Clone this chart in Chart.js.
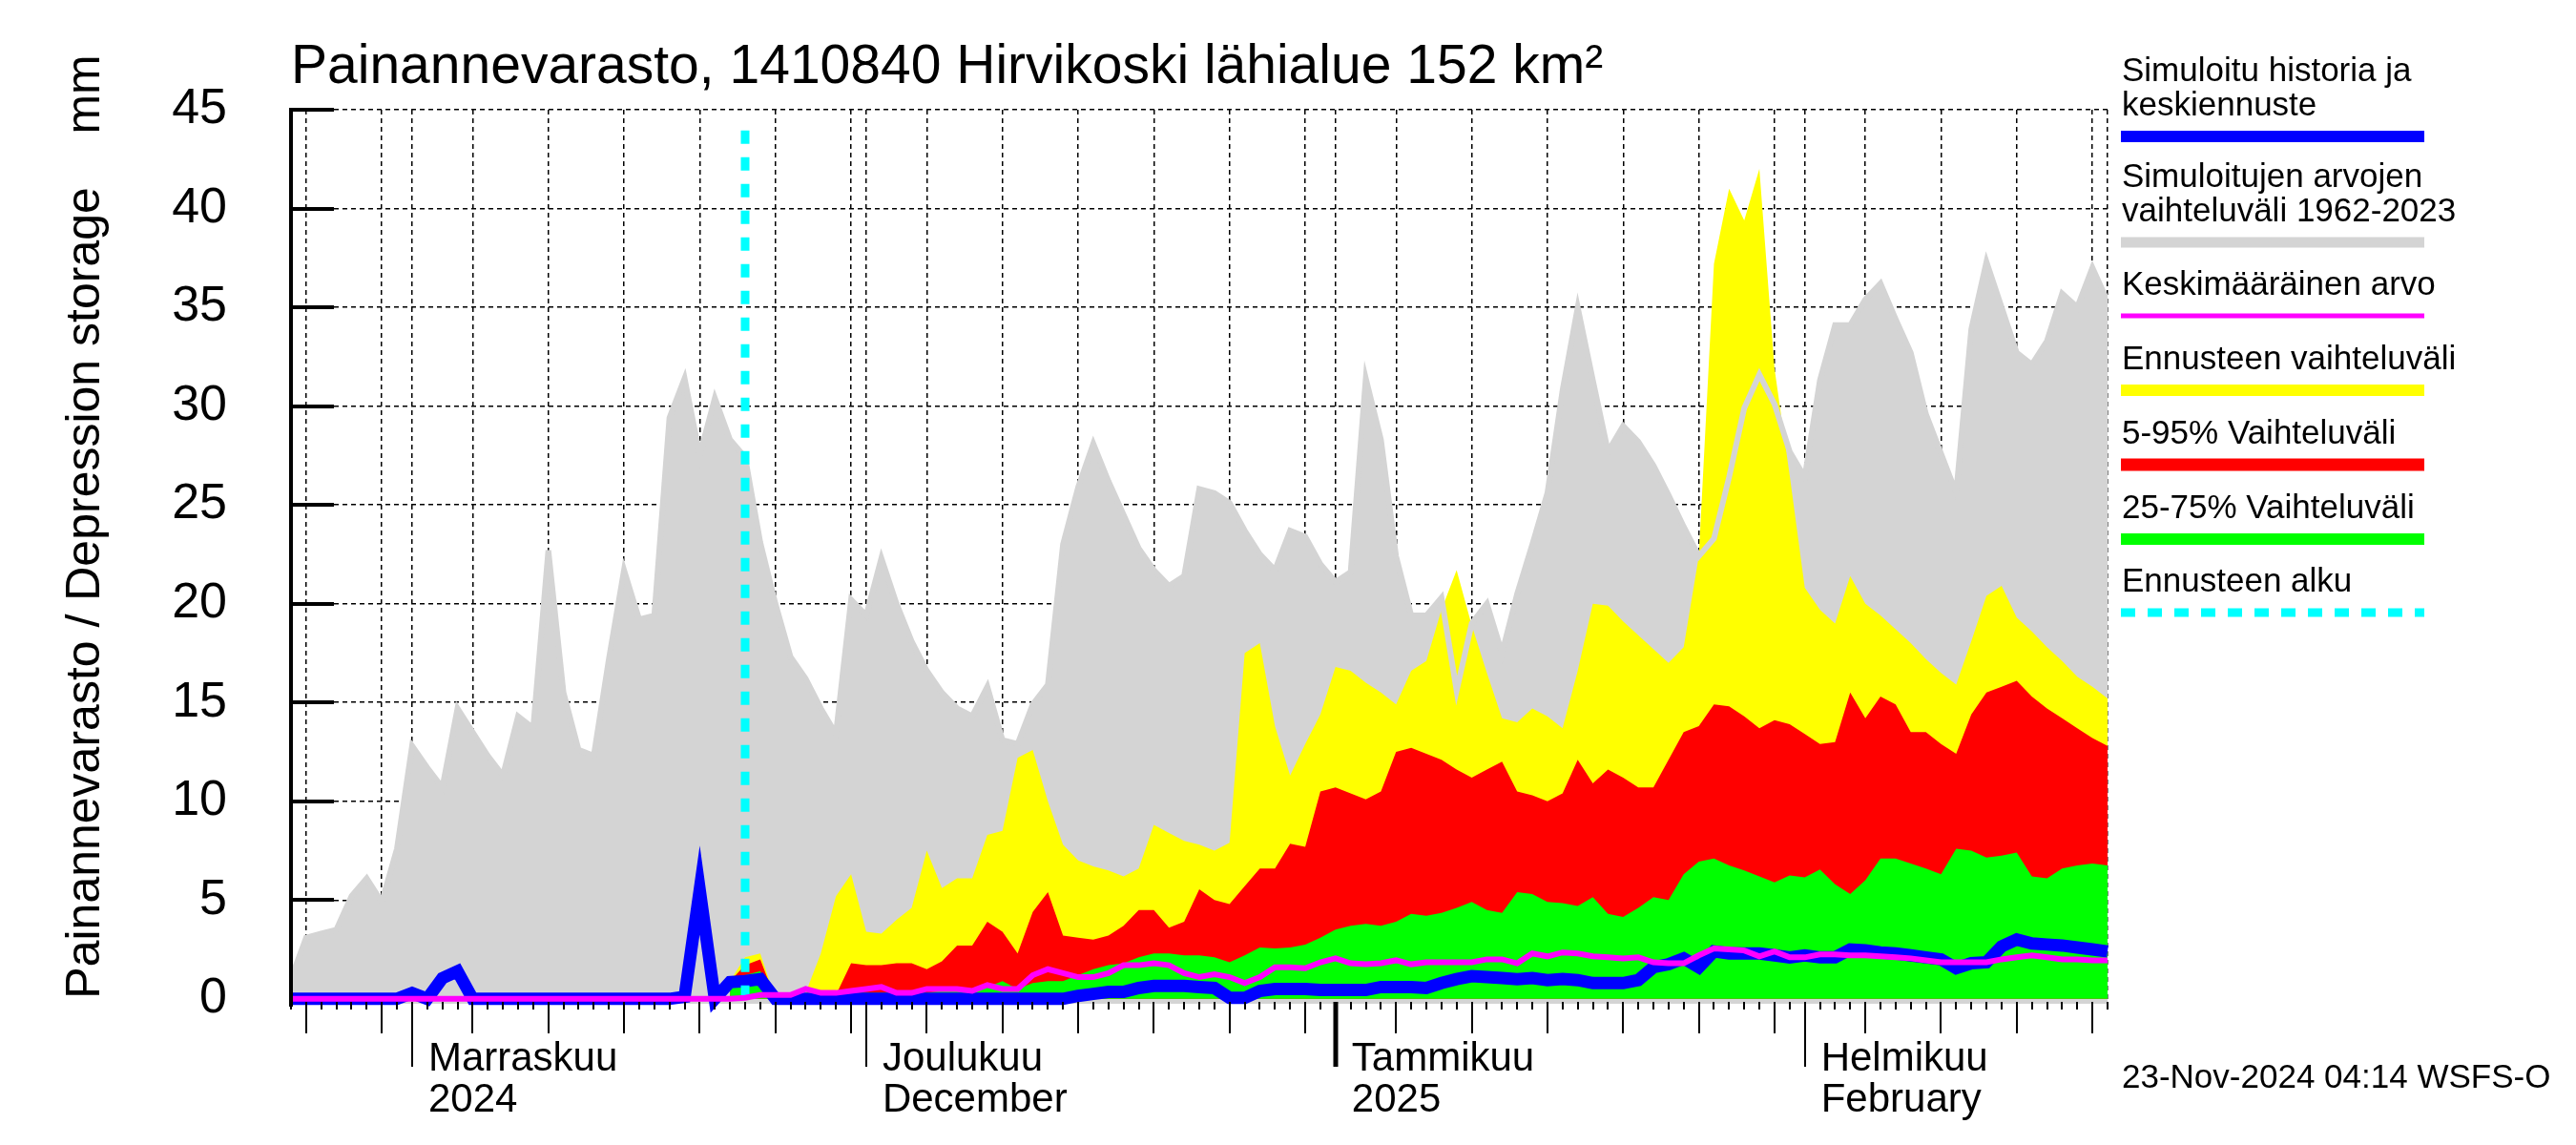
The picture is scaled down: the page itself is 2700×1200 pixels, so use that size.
<!DOCTYPE html>
<html>
<head>
<meta charset="utf-8">
<script src="https://cdn.jsdelivr.net/npm/chart.js@4.4.1/dist/chart.umd.min.js"></script>
<style>
body{margin:0;background:#fff}
#wrap{width:2700px;height:1200px}
</style>
</head>
<body>
<div id="wrap"><canvas id="chart" width="2700" height="1200"></canvas></div>
<script>

// day 0 = 24.10.2024, last day = 21.2.2025
const startDate = new Date(2024, 9, 24)
const days = Array.from({length:121}, (_, i) => i)
const forecastDay = 30
const forecastFirst = 29

const histMax = [
1.0,3.1,3.3,3.5,5.2,6.1,4.9,7.6,12.8,11.7,
10.7,14.7,13.5,12.3,11.3,14.3,13.7,22.7,15.5,12.6,
12.3,17.2,21.7,19.2,19.4,29.4,31.4,27.5,30.4,28.3,
27.4,23.1,20.0,17.3,16.2,14.7,13.4,20.2,19.4,22.3,
20.0,18.1,16.6,15.5,14.7,14.3,15.8,13.1,12.9,14.9,
15.9,23.0,25.9,28.1,26.2,24.5,22.8,21.7,20.9,21.4,
25.8,25.6,25.1,23.7,22.5,21.7,23.7,23.4,22.0,21.1,
21.6,31.4,28.3,22.4,19.4,19.4,20.3,15.6,19.0,20.0,
17.5,20.5,23.0,25.6,30.8,35.0,31.3,27.7,29.0,28.2,
27.0,25.5,23.9,22.4,23.3,26.4,29.9,31.6,30.1,27.7,
26.4,31.3,34.1,34.1,35.4,36.2,34.4,32.7,29.6,27.6,
25.6,33.9,37.3,35.0,32.7,32.1,33.3,35.7,35.0,37.0,35.3
]

// forecast series start at day 29
const fcMax = [
0.9,2.1,2.3,0,0,0.3,2.3,5.2,6.3,3.4,3.3,
4.0,4.6,7.5,5.6,6.1,6.1,8.3,8.5,12.2,12.6,
10.0,7.8,7.0,6.7,6.5,6.2,6.6,8.8,8.4,8.0,
7.8,7.5,7.9,17.5,18.0,13.8,11.3,12.9,14.4,16.8,
16.6,16.0,15.5,14.9,16.6,17.1,19.7,21.7,18.9,16.5,
14.2,14.0,14.7,14.3,13.7,16.6,20.0,19.9,19.1,18.4,
17.7,17.0,17.8,22.4,37.2,41.0,39.4,42.0,31.9,26.5,
20.8,19.7,19.0,21.4,20.0,19.4,18.7,18.0,17.2,16.5,
15.9,18.1,20.4,20.9,19.3,18.6,17.8,17.1,16.3,15.8,15.2
]

const fc95 = [
0.9,1.7,2.0,0,0,0,0,0.2,1.8,1.7,1.7,
1.8,1.8,1.5,1.9,2.7,2.7,3.9,3.4,2.3,4.4,
5.4,3.2,3.1,3.0,3.2,3.7,4.5,4.5,3.6,3.9,
5.55,5.0,4.8,5.7,6.6,6.6,7.85,7.7,10.5,10.7,
10.4,10.1,10.5,12.5,12.7,12.4,12.1,11.6,11.2,11.6,
12.0,10.5,10.3,10.0,10.4,12.1,10.9,11.6,11.2,10.7,
10.7,12.1,13.5,13.8,14.9,14.8,14.3,13.7,14.1,13.9,
13.4,12.9,13.0,15.5,14.2,15.3,14.9,13.5,13.5,12.9,
12.4,14.4,15.5,15.8,16.1,15.3,14.7,14.2,13.7,13.2,12.8
]

const fc75 = [
0.9,1.2,1.4,0,0,0.1,0.2,0.2,0.3,0.3,0.3,
0.3,0.3,0.3,0.4,0.5,0.5,0.6,0.9,0.5,0.8,
0.9,0.9,1.2,1.5,1.7,1.8,2.1,2.3,2.3,2.2,
2.2,2.1,1.85,2.2,2.6,2.55,2.6,2.75,3.1,3.5,
3.7,3.8,3.7,3.9,4.3,4.2,4.35,4.6,4.9,4.5,
4.35,5.4,5.3,4.9,4.85,4.7,5.15,4.3,4.15,4.6,
5.15,5.0,6.3,6.95,7.1,6.75,6.5,6.2,5.9,6.25,
6.15,6.55,5.8,5.3,6.0,7.1,7.1,6.85,6.6,6.3,
7.6,7.5,7.15,7.25,7.4,6.2,6.1,6.6,6.75,6.85,6.75
]

const meanValue = [
0,0,0,0,0,0,0,0,0,0,
0,0,0,0,0,0,0,0,0,0,
0,0,0,0,0,0,0,0,0,0,
0.05,0.2,0.2,0.2,0.5,0.3,0.3,0.4,0.5,0.6,
0.3,0.3,0.5,0.5,0.5,0.4,0.7,0.5,0.5,1.2,
1.5,1.3,1.1,1.1,1.3,1.7,1.7,1.8,1.7,1.3,
1.1,1.25,1.1,0.8,1.1,1.6,1.6,1.55,1.85,2.05,
1.8,1.75,1.8,1.95,1.75,1.85,1.85,1.85,1.85,2.0,
2.0,1.8,2.3,2.15,2.35,2.3,2.15,2.1,2.05,2.1,
1.85,1.8,1.8,2.2,2.55,2.5,2.45,2.15,2.4,2.1,
2.1,2.25,2.25,2.2,2.2,2.15,2.1,2.05,1.95,1.85,
1.85,1.85,1.85,2.0,2.1,2.2,2.1,2.0,2.0,1.95,1.95
]

const simulated = [
0,0,0,0,0,0,0,0,0.3,0,
1.05,1.4,0,0,0,0,0,0,0,0,
0,0,0,0,0,0,0.1,5.5,0,0.85,
0.9,1.0,0,0,0,0,0,0,0,0,
0,0,0,0,0,0,0,0,0,0,
0,0,0.15,0.25,0.35,0.35,0.55,0.65,0.65,0.65,
0.6,0.55,0.05,0.05,0.4,0.5,0.5,0.5,0.45,0.45,
0.45,0.45,0.6,0.6,0.6,0.55,0.8,1.0,1.15,1.1,
1.05,1.0,1.05,0.95,1.0,0.95,0.8,0.8,0.8,0.95,
1.6,1.75,2.05,1.6,2.4,2.3,2.3,2.3,2.2,2.1,
2.2,2.1,2.1,2.5,2.45,2.35,2.3,2.2,2.1,2.0,
1.55,1.8,1.85,2.65,3.0,2.8,2.75,2.7,2.6,2.5,2.4
]

const yTicks = [0,5,10,15,20,25,30,35,40,45]
const monthTicks = [8,38,69,100]
const monthNames = [["Marraskuu","2024"],["Joulukuu","December"],["Tammikuu","2025"],["Helmikuu","February"]]
const yearTick = 69

const legendItems = [
{text:["Simuloitu historia ja","keskiennuste"], color:"#0000ff"},
{text:["Simuloitujen arvojen","vaihteluväli 1962-2023"], color:"#d4d4d4"},
{text:["Keskimääräinen arvo"], color:"#ff00ff"},
{text:["Ennusteen vaihteluväli"], color:"#ffff00"},
{text:["5-95% Vaihteluväli"], color:"#ff0000"},
{text:["25-75% Vaihteluväli"], color:"#00ff00"},
{text:["Ennusteen alku"], color:"#00ffff"}
]

const titleText = "Painannevarasto, 1410840 Hirvikoski lähialue 152 km²"
const yTitle = "Painannevarasto / Depression storage    mm"
const stampText = "23-Nov-2024 04:14 WSFS-O"

const FONT = '"Liberation Sans", Arial, sans-serif'

function dateOf(i){
const d = new Date(startDate)
d.setDate(d.getDate()+i)
return d
}

const midDays = days.filter(i => [5,10,15,20,25,30].includes(dateOf(i).getDate()))
const gridDays = days.filter(i => dateOf(i).getDate()===1 || midDays.includes(i) || i===days.length-1)

const withGap = arr => Array(forecastFirst).fill(null).concat(arr)

function line(ctx,x1,y1,x2,y2){
ctx.beginPath()
ctx.moveTo(x1,y1)
ctx.lineTo(x2,y2)
ctx.stroke()
}

const decor = {
id:"decor",
afterDraw(chart){

const ctx = chart.ctx
const a = chart.chartArea
const xs = chart.scales.x
const ys = chart.scales.y

ctx.save()
ctx.strokeStyle = "#000"
ctx.fillStyle = "#000"
ctx.setLineDash([])

// y axis line and inward ticks
ctx.lineWidth = 4
line(ctx, a.left, a.top-2, a.left, a.bottom+3)
yTicks.forEach(v => {
if(v===0) return
const y = Math.round(ys.getPixelForValue(v))
line(ctx, a.left, y, a.left+45, y)
})

// x ticks: days, 5-day, months
days.forEach(i => {
const x = Math.round(xs.getPixelForValue(i))
let len = 6
if(midDays.includes(i)) len = 31
if(monthTicks.includes(i)) len = 66
ctx.lineWidth = i===yearTick ? 5 : 2
line(ctx, x, a.bottom-2, x, a.bottom+len)
})

ctx.font = "42px "+FONT
ctx.textAlign = "left"
monthTicks.forEach((d,k) => {
const x = xs.getPixelForValue(d)+17
ctx.fillText(monthNames[k][0], x, 1122)
ctx.fillText(monthNames[k][1], x, 1165)
})

ctx.font = "57px "+FONT
ctx.fillText(titleText, 305, 87)

ctx.font = "35px "+FONT
ctx.fillText(stampText, 2224, 1140)

// legend
const baseY = [85,196,309,387,465,543,620]
const widths = [12,11,5,12,13,12,9]
legendItems.forEach((it,k) => {
ctx.fillStyle = "#000"
let y = baseY[k]
it.text.forEach((t,j) => {
ctx.fillText(t, 2224, y)
if(j<it.text.length-1) y += 36
})
ctx.strokeStyle = it.color
ctx.lineWidth = widths[k]
ctx.setLineDash(k===6 ? [15,13] : [])
line(ctx, 2223, y+22, 2541, y+22)
})
ctx.setLineDash([])

// y title
ctx.fillStyle = "#000"
ctx.translate(104, 552)
ctx.rotate(-Math.PI/2)
ctx.textAlign = "center"
ctx.font = "50px "+FONT
ctx.fillText(yTitle, 0, 0)

ctx.restore()

}
}

const ctx = document.getElementById("chart")

new Chart(ctx,{
type:"line",
data:{
labels:days,
datasets:[
{
label:"Keskimääräinen arvo",
data:meanValue,
borderColor:"#ff00ff",
borderWidth:6,
pointRadius:0,
fill:false
},
{
label:"Ennusteen alku",
data:[{x:forecastDay,y:0},{x:forecastDay,y:44.4}],
borderColor:"#00ffff",
borderWidth:9,
borderDash:[14,14],
borderCapStyle:"butt",
pointRadius:0,
fill:false
},
{
label:"Simuloitu historia ja keskiennuste",
data:simulated,
borderColor:"#0000ff",
borderWidth:13,
pointRadius:0,
fill:false,
clip:false
},
{
label:"25-75% Vaihteluväli",
data:withGap(fc75),
borderWidth:0,
backgroundColor:"#00ff00",
pointRadius:0,
fill:"origin"
},
{
label:"5-95% Vaihteluväli",
data:withGap(fc95),
borderWidth:0,
backgroundColor:"#ff0000",
pointRadius:0,
fill:"origin"
},
{
label:"max line",
data:histMax,
borderColor:"#d4d4d4",
borderWidth:6,
pointRadius:0,
fill:false
},
{
label:"Ennusteen vaihteluväli",
data:withGap(fcMax),
borderWidth:0,
backgroundColor:"#ffff00",
pointRadius:0,
fill:"origin"
},
{
label:"Simuloitujen arvojen vaihteluväli 1962-2023",
data:histMax,
borderWidth:0,
backgroundColor:"#d4d4d4",
pointRadius:0,
fill:"start"
}
]
},
options:{
responsive:false,
animation:false,
devicePixelRatio:1,
events:[],
layout:{padding:{left:0,right:491,top:115,bottom:0}},
elements:{line:{tension:0,borderJoinStyle:"miter"}},
plugins:{
legend:{display:false},
tooltip:{enabled:false}
},
scales:{
x:{
type:"linear",
min:0,
max:120,
z:1,
afterBuildTicks:s => { s.ticks = gridDays.map(v => ({value:v})) },
afterFit:s => { s.height = 148 },
ticks:{display:false},
grid:{color:"#000",lineWidth:1.5,drawTicks:false},
border:{display:false,dash:[5,4]}
},
y:{
type:"linear",
min:-0.25,
max:45,
z:1,
afterBuildTicks:s => { s.ticks = yTicks.map(v => ({value:v})) },
afterFit:s => { s.width = 305 },
ticks:{
color:"#000",
padding:67,
font:{size:52,family:FONT}
},
grid:{
color:c => (c.tick && c.tick.value===0) ? "rgba(0,0,0,0)" : "#000",
lineWidth:1.5,
drawTicks:false
},
border:{display:false,dash:[5,4]}
}
}
},
plugins:[decor]
})

</script>
</body>
</html>
